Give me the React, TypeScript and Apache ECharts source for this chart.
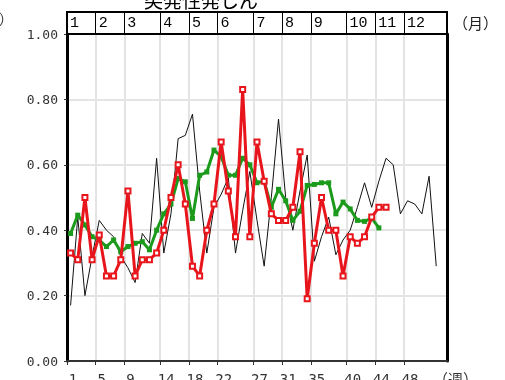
import React, { useEffect, useRef } from "react";
import * as echarts from "echarts";

// month boundaries (start weeks) and labels
const monthStartWeeks = [1, 5, 9, 14, 18, 22, 27, 31, 35, 40, 44, 48];
const monthLabels = ["1", "2", "3", "4", "5", "6", "7", "8", "9", "10", "11", "12"];
const weekTickLabels = [1, 5, 9, 14, 18, 22, 27, 31, 35, 40, 44, 48];

// black thin line (weeks 1..52)
const blackValues = [
  0.17, 0.44, 0.2, 0.32, 0.43, 0.4, 0.38, 0.32, 0.285, 0.24,
  0.39, 0.36, 0.62, 0.33, 0.45, 0.68, 0.69, 0.755, 0.52, 0.33,
  0.47, 0.51, 0.56, 0.33, 0.46, 0.58, 0.43, 0.29, 0.5, 0.74,
  0.5, 0.4, 0.52, 0.63, 0.305, 0.38, 0.44, 0.325, 0.37, 0.4,
  0.47, 0.545, 0.47, 0.55, 0.62, 0.6, 0.45, 0.49, 0.48, 0.45,
  0.565, 0.29,
];

// red line with hollow squares (weeks 1..45)
const redValues = [
  0.33, 0.31, 0.5, 0.31, 0.385, 0.26, 0.26, 0.31, 0.52, 0.26,
  0.31, 0.31, 0.33, 0.4, 0.5, 0.6, 0.48, 0.29, 0.26, 0.4,
  0.48, 0.67, 0.52, 0.38, 0.83, 0.38, 0.67, 0.55, 0.45, 0.43,
  0.43, 0.47, 0.64, 0.19, 0.36, 0.5, 0.4, 0.4, 0.26, 0.38,
  0.36, 0.38, 0.44, 0.47, 0.47,
];

// green line with filled squares (weeks 1..44)
const greenValues = [
  0.39, 0.446, 0.416, 0.38, 0.37, 0.35, 0.37, 0.334, 0.35, 0.36,
  0.365, 0.34, 0.4, 0.45, 0.48, 0.558, 0.548, 0.436, 0.568, 0.578,
  0.645, 0.625, 0.568, 0.568, 0.62, 0.6, 0.545, 0.55, 0.47, 0.525,
  0.49, 0.43, 0.458, 0.537, 0.54, 0.545, 0.545, 0.45, 0.486, 0.465,
  0.43, 0.427, 0.437, 0.407,
];

const title = "突発性発しん";
const monthUnit = "（月）";
const weekUnit = "（週）";
const yUnit = "（人）";

const toPairs = (vals: number[]) => vals.map((v, i) => [i + 1, v]);

export default function App() {
  const ref = useRef<HTMLDivElement>(null);
  useEffect(() => {
    if (!ref.current) return;
    const chart = echarts.init(ref.current, null, { renderer: "svg" });
    const boundaries = monthStartWeeks.map((w) => w - 0.5);
    const mono = "DejaVu Sans Mono";
    chart.setOption({
      animation: false,
      grid: { left: 67, right: 58, top: 34, bottom: 19, containLabel: false, outerBoundsMode: "none" },
      xAxis: [
        {
          type: "value",
          position: "bottom",
          min: 0.5,
          max: 53.5,
          axisLine: { show: true, onZero: false, lineStyle: { color: "#333", width: 2 } },
          axisTick: { show: true, customValues: boundaries, length: 4, lineStyle: { color: "#333" } },
          axisLabel: {
            customValues: weekTickLabels,
            formatter: (v: number) => String(v),
            margin: 11,
            padding: [0, 0, 0, 5],
            fontFamily: mono,
            fontSize: 14,
            color: "#333",
          },
          splitLine: { show: true, lineStyle: { color: "#e4e4e4", width: 2 } },
        },
        {
          type: "value",
          position: "top",
          min: 0.5,
          max: 53.5,
          axisLine: { show: true, onZero: false, lineStyle: { color: "#000", width: 1.5 } },
          axisTick: { show: true, customValues: boundaries, length: 22, inside: false, lineStyle: { color: "#000", width: 1 } },
          axisLabel: {
            customValues: boundaries,
            formatter: (v: number) => {
              const i = boundaries.indexOf(v);
              return i >= 0 ? monthLabels[i] : "";
            },
            align: "left",
            padding: [0, 0, 0, 3],
            margin: 3,
            verticalAlign: "bottom",
            fontFamily: "Liberation Mono",
            fontSize: 15,
            color: "#000",
          },
          splitLine: { show: false },
        },
      ],
      yAxis: [
        {
          type: "value",
          min: 0,
          max: 1,
          interval: 0.2,
          axisLine: { show: true, onZero: false, lineStyle: { color: "#000", width: 3 } },
          axisTick: { show: true, length: 3, lineStyle: { color: "#333" } },
          axisLabel: {
            formatter: (v: number) => v.toFixed(2),
            margin: 9,
            fontFamily: mono,
            fontSize: 13,
            color: "#333",
          },
          splitLine: { show: true, lineStyle: { color: "#e4e4e4", width: 2 } },
        },
        {
          type: "value",
          position: "right",
          min: 0,
          max: 1,
          interval: 0.2,
          axisLine: { show: true, onZero: false, lineStyle: { color: "#000", width: 3 } },
          axisTick: { show: false },
          axisLabel: { show: false },
          splitLine: { show: false },
        },
      ],
      series: [
        {
          type: "line",
          data: toPairs(blackValues),
          symbol: "none",
          lineStyle: { color: "#111", width: 1 },
          z: 2,
        },
        {
          type: "line",
          data: toPairs(greenValues),
          symbol: "rect",
          symbolSize: 5,
          itemStyle: { color: "#1c9a1c" },
          lineStyle: { color: "#1c9a1c", width: 3 },
          z: 3,
        },
        {
          type: "line",
          data: toPairs(redValues),
          symbol: "emptyRect",
          symbolSize: 5,
          itemStyle: { color: "#e8161c", borderWidth: 1.5 },
          lineStyle: { color: "#e8161c", width: 3 },
          z: 4,
        },
      ],
      graphic: [
        {
          type: "rect",
          shape: { x: 67, y: 12, width: 380, height: 22 },
          style: { fill: "none", stroke: "#000", lineWidth: 2 },
          z: 10,
        },
        {
          type: "text",
          x: 201,
          y: -10,
          style: { text: title, font: "19px 'Noto Sans CJK JP'", fill: "#000", textAlign: "center", textVerticalAlign: "top" },
        },
        {
          type: "text",
          x: 453,
          y: 15,
          style: { text: monthUnit, font: "15px 'Noto Sans CJK JP'", fill: "#222", textVerticalAlign: "top" },
        },
        {
          type: "text",
          x: 433,
          y: 371,
          style: { text: weekUnit, font: "15px 'Noto Sans CJK JP'", fill: "#333", textVerticalAlign: "top" },
        },
        {
          type: "text",
          x: 13,
          y: 11,
          style: { text: yUnit, font: "14px 'Noto Sans CJK JP'", fill: "#333", textAlign: "right", textVerticalAlign: "top" },
        },
      ],
    });
    return () => chart.dispose();
  }, []);
  return <div ref={ref} style={{ position: "fixed", left: 0, top: 0, width: 505, height: 380 }} />;
}
